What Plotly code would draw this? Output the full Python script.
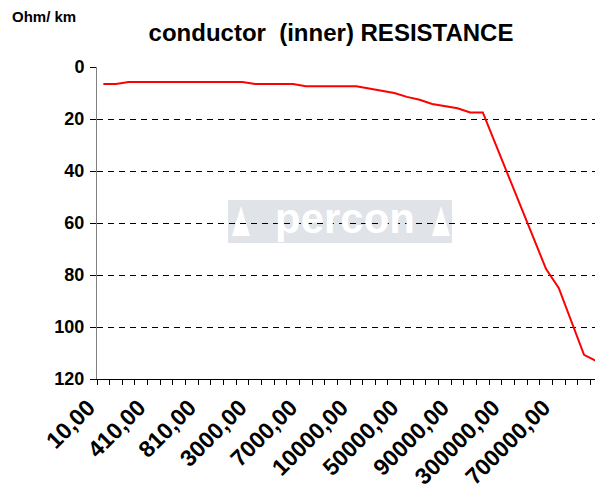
import plotly.graph_objects as go

# ---- data ----
frequencies = [10, 110, 210, 310, 410, 510, 610, 710, 810, 900,
               1000, 2000, 3000, 4000, 5000, 6000, 7000, 8000, 9000, 9500,
               10000, 20000, 30000, 40000, 50000, 60000, 70000, 80000, 90000, 100000,
               200000, 250000, 300000, 400000, 500000, 600000, 700000, 800000, 900000, 1000000]
resistance = [6.5, 6.5, 5.8, 5.8, 5.8, 5.8, 5.8, 5.8, 5.8, 5.8,
              5.8, 5.8, 6.5, 6.5, 6.5, 6.5, 7.4, 7.4, 7.4, 7.4,
              7.4, 8.3, 9.2, 10.0, 11.5, 12.6, 14.2, 15.0, 15.9, 17.5,
              17.5, 29.6, 41.8, 53.9, 66.1, 77.7, 85.0, 97.9, 110.7, 113.2]
y_ticks = [0, 20, 40, 60, 80, 100, 120]
label_step = 4
title_text = "conductor  (inner) RESISTANCE"
unit_text = "Ohm/ km"
watermark_text = "percon"

idx = list(range(len(frequencies)))
tick_idx = idx[::label_step]
tick_text = [f"{frequencies[i]},00" for i in tick_idx]
boundaries = [i - 0.5 for i in range(len(frequencies) + 1)]

FONT = "Liberation Sans, Arial, sans-serif"

# the page body adds an 8px offset; figure laid out to compensate
W, H = 595, 491
L, T, PW, PH = 89, 59, 506, 312

fig = go.Figure()
fig.add_trace(go.Scatter(
    x=idx, y=resistance, mode="lines",
    line=dict(color="#FF0000", width=2),
    hoverinfo="skip", showlegend=False,
))

fig.update_layout(
    width=W, height=H,
    margin=dict(l=L, r=W - L - PW, t=T, b=H - T - PH, autoexpand=False),
    paper_bgcolor="white", plot_bgcolor="white",
    font=dict(family=FONT, color="black"),
    title=dict(text=title_text, x=323 / W, xanchor="center",
               y=1 - 25 / H, yanchor="middle",
               font=dict(family=FONT, size=24, weight="bold", color="black")),
    showlegend=False,
)

fig.update_xaxes(
    automargin=False,
    range=[-0.5, len(frequencies) - 0.5],
    tickmode="array", tickvals=tick_idx, ticktext=tick_text,
    ticks="", tickangle=-45,
    tickfont=dict(family=FONT, size=23, weight="bold", color="black"),
    ticklabelstandoff=5, ticklabelshift=-15,
    showgrid=False, zeroline=False,
    showline=True, linecolor="black", linewidth=1,
    minor=dict(tickmode="array", tickvals=boundaries, ticks="outside",
               ticklen=5, tickcolor="black", tickwidth=1, showgrid=False),
)

fig.update_yaxes(
    automargin=False,
    range=[120, 0],
    tickmode="array", tickvals=y_ticks,
    ticks="outside", ticklen=6, tickcolor="black", tickwidth=1,
    tickfont=dict(family=FONT, size=18, weight="bold", color="black"),
    ticklabelstandoff=2,
    showgrid=True, gridcolor="black", gridwidth=1, griddash="6px,5px",
    zeroline=False,
    showline=True, linecolor="#808080", linewidth=1,
)

def px_x(xp):  # page x -> paper fraction
    return (xp - 8 - L) / PW

def px_y(yp):  # page y -> paper fraction
    return 1 - (yp - 8 - T) / PH

# watermark logo (decoration)
fig.add_shape(type="rect", xref="paper", yref="paper",
              x0=px_x(228), x1=px_x(452), y0=px_y(243), y1=px_y(200),
              fillcolor="#e0e3e7", line=dict(width=0), layer="below")
for xa, xb in [(232, 250), (432, 450)]:
    xm = (xa + xb) / 2
    fig.add_shape(type="path", xref="paper", yref="paper",
                  path=f"M {px_x(xa)},{px_y(236)} L {px_x(xm)},{px_y(206)} L {px_x(xb)},{px_y(236)} Z",
                  fillcolor="white", line=dict(width=0), layer="below")
fig.add_annotation(text=watermark_text, xref="paper", yref="paper",
                   x=px_x(345), y=px_y(218),
                   showarrow=False, xanchor="center", yanchor="middle",
                   font=dict(family=FONT, size=42, weight="bold", color="white"))

fig.add_annotation(text=unit_text, xref="paper", yref="paper",
                   x=px_x(10), y=px_y(17), xanchor="left", yanchor="middle",
                   showarrow=False,
                   font=dict(family=FONT, size=15, weight="bold", color="black"))

fig.write_html("out.html")
